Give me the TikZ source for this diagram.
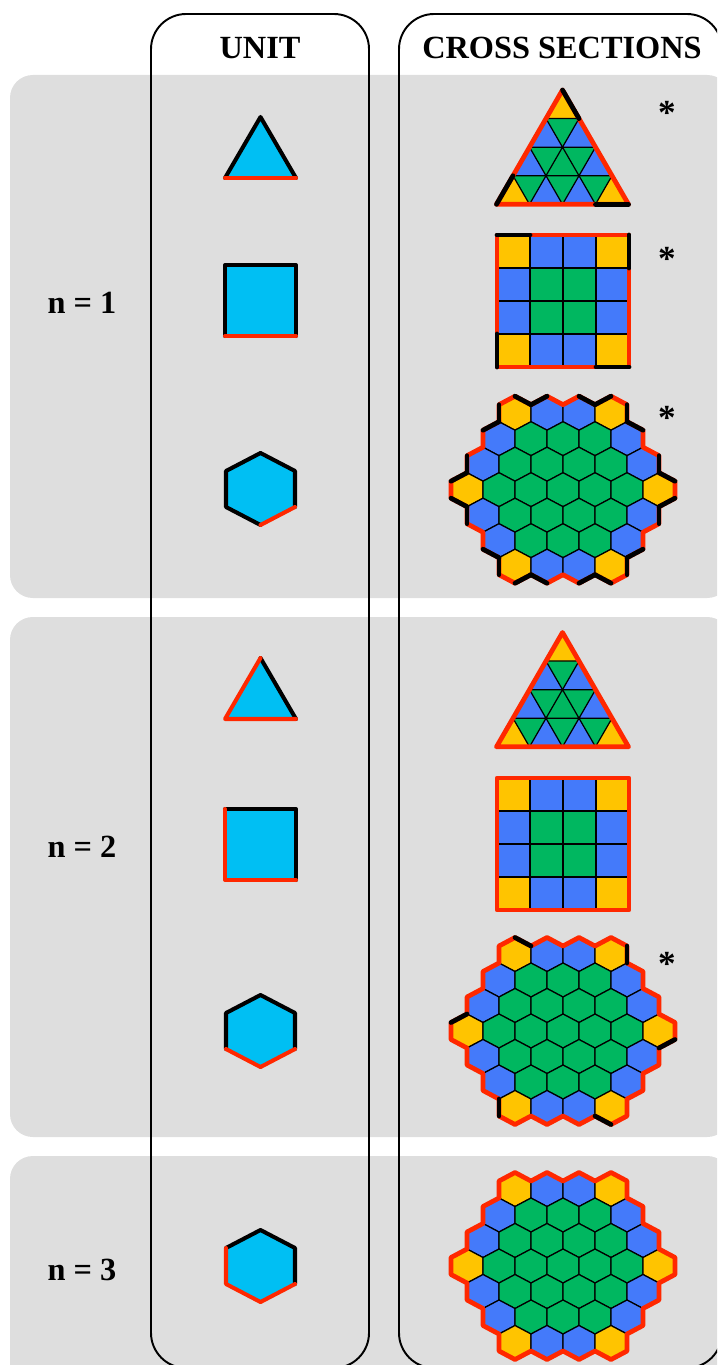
\documentclass[tikz,border=0pt]{standalone}
\usepackage{fontspec}
\setmainfont{Liberation Serif}
\usepackage{xcolor}
\usepackage{tikz}
\usetikzlibrary{positioning}

\definecolor{panelgray}{RGB}{222,222,222}
\definecolor{unitcyan}{RGB}{0,191,243}
\definecolor{tileyellow}{RGB}{255,196,0}
\definecolor{tileblue}{RGB}{68,122,250}
\definecolor{tilegreen}{RGB}{0,183,96}
\definecolor{edgered}{RGB}{255,40,0}

% outer rim of the 37-cell hexagon, clockwise from the top left corner cell
\def\rimpts{-64/-68, -64/-85, -48/-93.5, -32/-85, -16/-93.5, 0/-85, 16/-93.5, 32/-85, 48/-93.5, 64/-85, 64/-68, 80/-59.5, 80/-42.5, 96/-34, 96/-17, 112/-8.5, 112/8.5, 96/17, 96/34, 80/42.5, 80/59.5, 64/68, 64/85, 48/93.5, 32/85, 16/93.5, 0/85, -16/93.5, -32/85, -48/93.5, -64/85, -64/68, -80/59.5, -80/42.5, -96/34, -96/17, -112/8.5, -112/-8.5, -96/-17, -96/-34, -80/-42.5, -80/-59.5}

\begin{document}
\begin{tikzpicture}[
    x=0.02cm, y=-0.02cm,
    headtext/.style={font=\fontsize{18.4}{22}\selectfont\bfseries, inner sep=0pt},
    nlabel/.style={font=\fontsize{18.4}{22}\selectfont\bfseries, inner sep=0pt},
    starmark/.style={font=\fontsize{20}{24}\selectfont\bfseries, inner sep=0pt},
    panel/.style={fill=panelgray, rounded corners=13pt},
    colbox/.style={draw=black, line width=1.1pt, rounded corners=20pt},
    tilecell/.style={draw=black, line width=0.7pt, line join=round},
    redrim/.style={draw=edgered, line width=2.3pt, line join=round, line cap=round},
    blackrim/.style={draw=black, line width=2.3pt, line join=round, line cap=round},
    thickrim/.style={line width=2.7pt},
    hexgrid/.pic={
        \foreach \rw/\m/\cols in {-3/4/{tileyellow,tileblue,tileblue,tileyellow},
                                  -2/5/{tileblue,tilegreen,tilegreen,tilegreen,tileblue},
                                  -1/6/{tileblue,tilegreen,tilegreen,tilegreen,tilegreen,tileblue},
                                  0/7/{tileyellow,tilegreen,tilegreen,tilegreen,tilegreen,tilegreen,tileyellow},
                                  1/6/{tileblue,tilegreen,tilegreen,tilegreen,tilegreen,tileblue},
                                  2/5/{tileblue,tilegreen,tilegreen,tilegreen,tileblue},
                                  3/4/{tileyellow,tileblue,tileblue,tileyellow}}
            \foreach \c [count=\i] in \cols
                \filldraw[tilecell, fill=\c, shift={({(\i-1-(\m-1)/2)*32},{\rw*25.5})}]
                    (0,-17) -- (16,-8.5) -- (16,8.5) -- (0,17) -- (-16,8.5) -- (-16,-8.5) -- cycle;
    },
    trigrid/.pic={
        \fill[tilegreen] (0,0) -- (66,114.3) -- (-66,114.3) -- cycle;
        \foreach \k/\cols in {1/{tileyellow}, 2/{tileblue,tileblue}, 3/{tileblue,tilegreen,tileblue},
                              4/{tileyellow,tileblue,tileblue,tileyellow}}
            \foreach \c [count=\j] in \cols
                \filldraw[tilecell, fill=\c, shift={({(\j-1-(\k-1)/2)*33},{(\k-1)*28.575})}]
                    (0,0) -- (16.5,28.575) -- (-16.5,28.575) -- cycle;
    },
    sqgrid/.pic={
        \foreach \rw/\cols in {0/{tileyellow,tileblue,tileblue,tileyellow}, 1/{tileblue,tilegreen,tilegreen,tileblue},
                               2/{tileblue,tilegreen,tilegreen,tileblue}, 3/{tileyellow,tileblue,tileblue,tileyellow}}
            \foreach \c [count=\j] in \cols
                \filldraw[tilecell, fill=\c] ({(\j-1)*33},{\rw*33}) rectangle ++(33,33);
    }
]
\useasboundingbox (0,0) rectangle (717,1365);
\clip (0,0) rectangle (717,1365);

% Gray bands, one per n
\fill[panel] (10,75) rectangle (730,598);
\fill[panel] (10,617) rectangle (730,1137);
\fill[panel] (10,1156) rectangle (730,1420);

% Column frames and headers
\draw[colbox] (151,14) rectangle (369,1368);
\draw[colbox] (399,14) rectangle (722,1368);
\node[headtext] (unithead) at (260,48) {UNIT};
\node[headtext] (crosshead) at (562,48) {CROSS SECTIONS};

% Row labels
\node[nlabel] (labelone) at (82,303) {n = 1};
\node[nlabel] (labeltwo) at (82,847) {n = 2};
\node[nlabel] (labelthree) at (82,1270) {n = 3};

% Asterisks
\node[starmark] (starone) at (667,113) {*};
\node[starmark] (startwo) at (667,259) {*};
\node[starmark] (starthree) at (667,418) {*};
\node[starmark] (starfour) at (667,964) {*};

% Unit column: n = 1
\begin{scope}[shift={(260.5,117)}]
    \fill[unitcyan] (0,0) -- (35.5,61) -- (-35.5,61) -- cycle;
    \draw[blackrim] (-35.5,61) -- (0,0) -- (35.5,61);
    \draw[redrim] (-35.5,61) -- (35.5,61);
\end{scope}
\begin{scope}[shift={(225,265)}]
    \fill[unitcyan] (0,0) rectangle (71,71);
    \draw[blackrim] (0,71) -- (0,0) -- (71,0) -- (71,71);
    \draw[redrim] (0,71) -- (71,71);
\end{scope}
\begin{scope}[shift={(260.5,489)}]
    \fill[unitcyan] (0,-36) -- (34.5,-18) -- (34.5,18) -- (0,36) -- (-34.5,18) -- (-34.5,-18) -- cycle;
    \draw[blackrim] (0,36) -- (-34.5,18) -- (-34.5,-18) -- (0,-36) -- (34.5,-18) -- (34.5,18);
    \draw[redrim] (34.5,18) -- (0,36);
\end{scope}

% Unit column: n = 2
\begin{scope}[shift={(260.5,658)}]
    \fill[unitcyan] (0,0) -- (35.5,61) -- (-35.5,61) -- cycle;
    \draw[blackrim] (0,0) -- (35.5,61);
    \draw[redrim] (35.5,61) -- (-35.5,61) -- (0,0);
\end{scope}
\begin{scope}[shift={(225,809)}]
    \fill[unitcyan] (0,0) rectangle (71,71);
    \draw[blackrim] (0,0) -- (71,0) -- (71,71);
    \draw[redrim] (0,0) -- (0,71) -- (71,71);
\end{scope}
\begin{scope}[shift={(260.5,1031)}]
    \fill[unitcyan] (0,-36) -- (34.5,-18) -- (34.5,18) -- (0,36) -- (-34.5,18) -- (-34.5,-18) -- cycle;
    \draw[blackrim] (-34.5,18) -- (-34.5,-18) -- (0,-36) -- (34.5,-18) -- (34.5,18);
    \draw[redrim] (34.5,18) -- (0,36) -- (-34.5,18);
\end{scope}

% Unit column: n = 3
\begin{scope}[shift={(260.5,1266)}]
    \fill[unitcyan] (0,-36) -- (34.5,-18) -- (34.5,18) -- (0,36) -- (-34.5,18) -- (-34.5,-18) -- cycle;
    \draw[blackrim] (-34.5,-18) -- (0,-36) -- (34.5,-18) -- (34.5,18);
    \draw[redrim] (34.5,18) -- (0,36) -- (-34.5,18) -- (-34.5,-18);
\end{scope}

% Cross sections: n = 1
\begin{scope}[shift={(562.5,90)}]
    \pic {trigrid};
    \draw[redrim, thickrim] (0,0) -- (66,114.3) -- (-66,114.3) -- cycle;
    \draw[blackrim, thickrim] (0,0) -- (16.5,28.575);
    \draw[blackrim, thickrim] (-49.5,85.725) -- (-66,114.3);
    \draw[blackrim, thickrim] (33,114.3) -- (66,114.3);
\end{scope}
\begin{scope}[shift={(497,235)}]
    \pic {sqgrid};
    \draw[redrim, thickrim] (0,0) rectangle (132,132);
    \draw[blackrim, thickrim] (0,0) -- (33,0);
    \draw[blackrim, thickrim] (132,0) -- (132,33);
    \draw[blackrim, thickrim] (0,99) -- (0,132);
    \draw[blackrim, thickrim] (99,132) -- (132,132);
\end{scope}
\begin{scope}[shift={(563,489.7)}]
    \pic {hexgrid};
    \foreach \px/\py [count=\k from 0] in \rimpts {\coordinate (ha\k) at (\px,\py);}
\end{scope}
\draw[redrim, thickrim] (ha0) \foreach \k in {1,...,41} {-- (ha\k)} -- cycle;
\foreach \k [evaluate=\k as \kk using {int(mod(\k+1,42))}] in {0,2,3,6,7,9,10,13,14,16,17,20,21,23,24,27,28,30,31,34,35,37,38,41}
    \draw[blackrim, thickrim] (ha\k) -- (ha\kk);

% Cross sections: n = 2
\begin{scope}[shift={(562.5,632.5)}]
    \pic {trigrid};
    \draw[redrim, thickrim] (0,0) -- (66,114.3) -- (-66,114.3) -- cycle;
\end{scope}
\begin{scope}[shift={(497,778)}]
    \pic {sqgrid};
    \draw[redrim, thickrim] (0,0) rectangle (132,132);
\end{scope}
\begin{scope}[shift={(563,1031)}]
    \pic {hexgrid};
    \foreach \px/\py [count=\k from 0] in \rimpts {\coordinate (hb\k) at (\px,\py);}
\end{scope}
\draw[redrim, thickrim] (hb0) \foreach \k in {1,...,41} {-- (hb\k)} -- cycle;
\foreach \k [evaluate=\k as \kk using {int(mod(\k+1,42))}] in {2,9,16,23,30,37}
    \draw[blackrim, thickrim] (hb\k) -- (hb\kk);

% Cross sections: n = 3
\begin{scope}[shift={(563,1266)}]
    \pic {hexgrid};
    \foreach \px/\py [count=\k from 0] in \rimpts {\coordinate (hc\k) at (\px,\py);}
\end{scope}
\draw[redrim, thickrim] (hc0) \foreach \k in {1,...,41} {-- (hc\k)} -- cycle;

\end{tikzpicture}
\end{document}
